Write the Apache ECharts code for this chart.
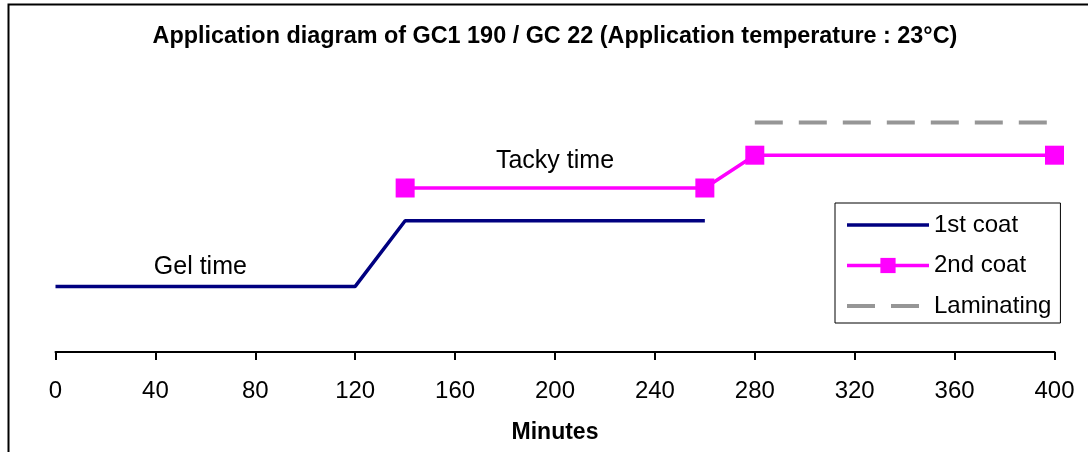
<!DOCTYPE html>
<html><head><meta charset="utf-8">
<script src="https://cdn.jsdelivr.net/npm/echarts@6/dist/echarts.min.js"></script>
<style>html,body{margin:0;padding:0;background:#fff}#c{width:1088px;height:452px}</style>
</head><body><div id="c"></div>
<script>
// ---- data ----
const titleText = 'Application diagram of GC1 190 / GC 22 (Application temperature : 23°C)';
const xAxisName = 'Minutes';
const xTicks = [0, 40, 80, 120, 160, 200, 240, 280, 320, 360, 400];
const seriesNames = ['1st coat', '2nd coat', 'Laminating'];
const coat1X = [0, 120, 140, 260];
const coat1Y = [2, 2, 4, 4];
const coat2X = [140, 260, 280, 400];
const coat2Y = [5, 5, 6, 6];
const lamX = [280, 400];
const lamY = [7, 7];
const noteTexts = ['Gel time', 'Tacky time'];
const noteX = [58, 200];
const noteY = [2.6, 5.83];

const FONT = '"Liberation Sans", Arial, sans-serif';
const zip = (xs, ys) => xs.map((x, i) => [x, ys[i]]);
const C1 = '#000080', C2 = '#FF00FF', C3 = '#969696';
const DASH = [28, 16];

const chart = echarts.init(document.getElementById('c'), null, {renderer: 'canvas'});
chart.setOption({
  animation: false,
  backgroundColor: '#fff',
  textStyle: {fontFamily: FONT},
  title: {
    text: titleText, left: 555, top: 25, textAlign: 'center', padding: 0,
    textStyle: {fontFamily: FONT, fontSize: 23.4, fontWeight: 'bold', color: '#000', lineHeight: 24}
  },
  graphic: [{
    type: 'rect', shape: {x: 8.5, y: 4.5, width: 1200, height: 600},
    style: {fill: 'none', stroke: '#000', lineWidth: 2}, silent: true
  }],
  grid: {left: 55.5, right: 33.5, top: 24, bottom: 100, containLabel: false},
  legend: {
    data: [
      {name: seriesNames[0], itemStyle: {opacity: 0}, lineStyle: {width: 3.5, color: C1}},
      {name: seriesNames[1], lineStyle: {width: 3.5, color: C2}},
      {name: seriesNames[2], itemStyle: {opacity: 0}, lineStyle: {width: 4, color: C3, type: DASH}}
    ],
    orient: 'vertical', left: 835, top: 203,
    padding: [10, 9, 5, 10], itemGap: 16.5, itemWidth: 82, itemHeight: 19,
    borderColor: '#000', borderWidth: 1, backgroundColor: '#fff',
    textStyle: {fontFamily: FONT, fontSize: 24, color: '#000', lineHeight: 24, padding: [0, 0, 0, 0]}
  },
  xAxis: {
    type: 'value', min: xTicks[0], max: xTicks[xTicks.length - 1], interval: xTicks[1] - xTicks[0],
    name: xAxisName, nameLocation: 'middle', nameGap: 69,
    nameTextStyle: {fontFamily: FONT, fontSize: 23, fontWeight: 'bold', color: '#000'},
    axisLine: {show: true, onZero: false, lineStyle: {color: '#000', width: 2}},
    axisTick: {show: true, length: 8, lineStyle: {color: '#000', width: 2}},
    axisLabel: {fontFamily: FONT, fontSize: 24, color: '#000', margin: 27},
    splitLine: {show: false}
  },
  yAxis: {type: 'value', min: 0, max: 10, show: false, splitLine: {show: false}},
  series: [
    {
      name: seriesNames[0], type: 'line', data: zip(coat1X, coat1Y), symbol: 'none',
      lineStyle: {color: C1, width: 3.5}, itemStyle: {color: C1},
      markPoint: {
        symbol: 'rect', symbolSize: 1, itemStyle: {color: 'rgba(0,0,0,0)'},
        label: {show: true, position: 'inside', fontFamily: FONT, fontSize: 25, color: '#000'},
        data: noteTexts.map((t, i) => ({coord: [noteX[i], noteY[i]], label: {formatter: t}}))
      }
    },
    {
      name: seriesNames[1], type: 'line', data: zip(coat2X, coat2Y), symbol: 'rect', symbolSize: 19,
      lineStyle: {color: C2, width: 3.5}, itemStyle: {color: C2}
    },
    {
      name: seriesNames[2], type: 'line', data: zip(lamX, lamY), symbol: 'none',
      lineStyle: {color: C3, width: 4, type: DASH}, itemStyle: {color: C3}
    }
  ]
});
</script></body></html>
